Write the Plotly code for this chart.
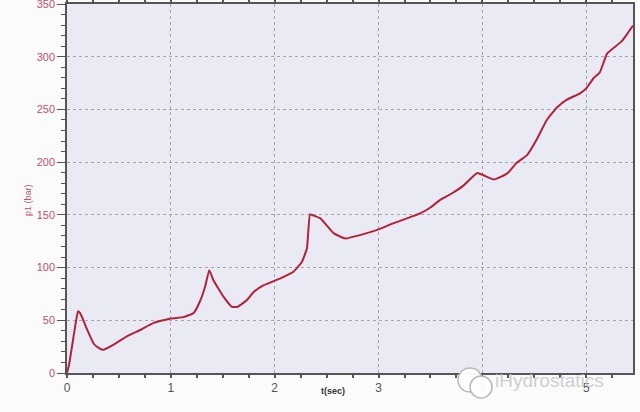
import plotly.graph_objects as go

t_sec = [0.0, 0.02, 0.048, 0.08, 0.106, 0.125, 0.145, 0.19, 0.256, 0.30, 0.347, 0.45, 0.58, 0.71, 0.835,
         1.0, 1.12, 1.22, 1.285, 1.33, 1.37, 1.41, 1.51, 1.59, 1.64, 1.73, 1.8, 1.89, 2.05, 2.18,
         2.26, 2.31, 2.34, 2.37, 2.44, 2.57, 2.68, 2.82, 2.98, 3.14, 3.40, 3.5, 3.59, 3.70, 3.82,
         3.95, 4.01, 4.11, 4.24, 4.33, 4.43, 4.52, 4.62, 4.72, 4.81, 4.94, 5.0, 5.07, 5.13, 5.2,
         5.26, 5.34, 5.39, 5.45]
p1_bar = [0, 8, 25, 45, 58.6, 57, 53, 42, 28, 24, 22, 27, 35, 41, 47.5,
          51.7, 53, 57, 69, 82, 97.5, 88, 72, 62.7, 62.7, 69, 77, 83, 89.6, 96,
          105, 118, 150.4, 149.5, 146.6, 132.4, 127.6, 130.8, 135.5, 141.9, 151.4, 157, 164, 170, 178,
          189.8, 187.6, 183.5, 189.3, 199.4, 206.7, 221, 240, 252, 259, 265.3, 270, 279.6, 285, 303,
          308, 314.5, 321, 329.5]

x_ticks = [0, 1, 2, 3, 4, 5]
y_ticks = [0, 50, 100, 150, 200, 250, 300, 350]

L, R, T, B = 67, 7, 4, 39
PW, PH = 640 - L - R, 412 - T - B


def px(xp):
    return (xp - L) / PW


def py(yp):
    return (412 - B - yp) / PH


fig = go.Figure()
fig.add_trace(go.Scatter(x=t_sec, y=p1_bar, mode="lines",
                         line=dict(color="#b3213b", width=2, shape="spline", smoothing=0.4),
                         showlegend=False, hoverinfo="skip"))

fig.update_layout(
    width=640, height=412,
    margin=dict(l=L, r=R, t=T, b=B, autoexpand=False),
    paper_bgcolor="#fbfbfb",
    plot_bgcolor="#e9eaf4",
    font=dict(family="Liberation Sans, Arial, sans-serif"),
)

fig.update_xaxes(
    range=[0, 5.45], tickvals=x_ticks, ticktext=[str(v) for v in x_ticks],
    tickfont=dict(size=12, color="#555555"),
    ticks="outside", ticklen=3, tickcolor="#555555", tickwidth=1.5,
    showline=True, linecolor="#555555", linewidth=1.5, mirror="allticks",
    showgrid=True, gridcolor="#a4a4b2", griddash="dot", gridwidth=1,
    minor=dict(dtick=0.25, ticks="outside", ticklen=3, tickcolor="#555555", showgrid=False),
    zeroline=False, automargin=False, ticklabeloverflow="allow",
)
fig.update_yaxes(
    range=[0, 350], tickvals=y_ticks, ticktext=[str(v) for v in y_ticks],
    tickfont=dict(size=11, color="#c0506b"),
    ticks="outside", ticklen=8, tickcolor="#555555", tickwidth=1,
    showline=True, linecolor="#555555", linewidth=1.5, mirror=True,
    showgrid=True, gridcolor="#a4a4b2", griddash="dot", gridwidth=1,
    minor=dict(dtick=10, ticks="outside", ticklen=4, tickcolor="#555555", showgrid=False),
    zeroline=False, automargin=False, ticklabeloverflow="allow",
)

# axis titles
fig.add_annotation(text="<b>t(sec)</b>", xref="paper", yref="paper", x=px(333), y=py(398),
                   showarrow=False, font=dict(size=9, color="#333333"))
fig.add_annotation(text="p1 (bar)", xref="paper", yref="paper", x=px(21), y=py(200),
                   textangle=-90, showarrow=False, font=dict(size=9, color="#c0506b"))

# watermark
fig.add_shape(type="circle", xref="paper", yref="paper", layer="above",
              x0=px(458), x1=px(482), y0=py(392), y1=py(368),
              fillcolor="rgba(255,255,255,0.95)", line=dict(color="#b8b8b8", width=1.5))
fig.add_shape(type="circle", xref="paper", yref="paper", layer="above",
              x0=px(470), x1=px(492), y0=py(398), y1=py(376),
              fillcolor="rgba(255,255,255,0.95)", line=dict(color="#b8b8b8", width=1.5))
fig.add_annotation(text="iHydrostatics", xref="paper", yref="paper",
                   x=px(493), y=py(381), xanchor="left", yanchor="middle",
                   showarrow=False, font=dict(size=19, color="rgba(200,200,205,0.9)",
                                              family="Liberation Sans, Arial, sans-serif"))

fig.write_html("out.html", config={"displayModeBar": False},
               post_script="document.body.style.margin='0';document.body.style.padding='0';")
